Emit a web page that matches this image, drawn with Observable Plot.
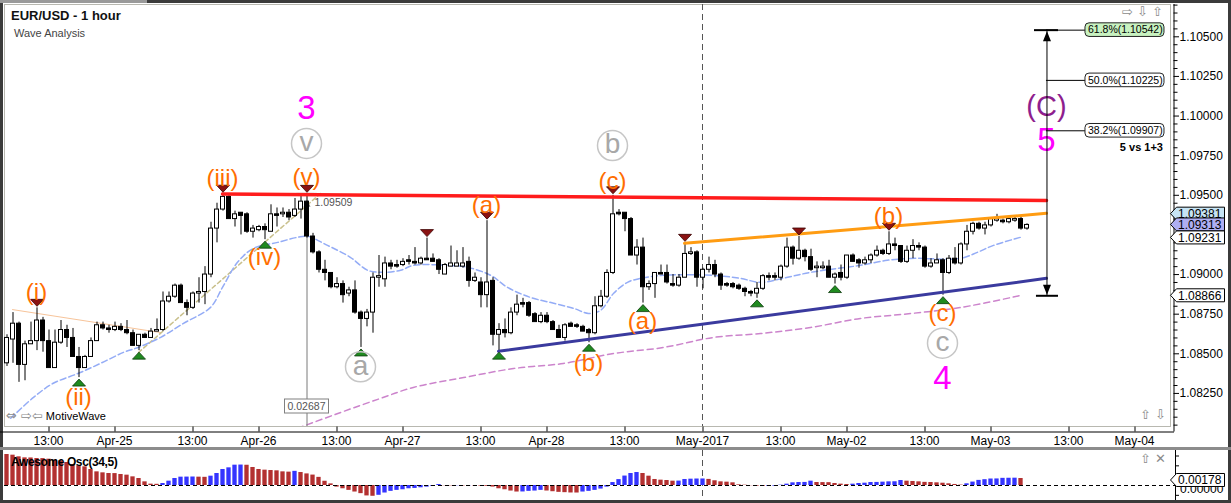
<!DOCTYPE html>
<html><head><meta charset="utf-8">
<script src="https://cdn.jsdelivr.net/npm/d3@7"></script>
<script src="https://cdn.jsdelivr.net/npm/@observablehq/plot@0.6"></script>
<style>
body{margin:0;background:#fff;font-family:"Liberation Sans",Arial,sans-serif}
#wrap{position:relative;width:1231px;height:503px;background:#3b3b3b;overflow:hidden}
.abs{position:absolute;white-space:nowrap}
.ico{font-family:"DejaVu Sans";color:#8a8a8a;font-size:13px}
</style></head><body>
<div id="wrap">
 <div class="abs" style="left:0;top:0;width:147px;height:3px;background:#9a9a9a"></div>
 <div class="abs" style="left:3px;top:3px;width:1225px;height:444px;background:#fff"></div>
 <div class="abs" style="left:0;top:447px;width:1231px;height:3px;background:#8c8c8c"></div>
 <div class="abs" style="left:3px;top:450px;width:1225px;height:50px;background:#fff"></div>
 <div id="main" class="abs" style="left:0;top:0"></div>
 <div id="osc" class="abs" style="left:0;top:450px"></div>
 <div class="abs" style="left:11px;top:8px;font:bold 13px 'Liberation Sans';color:#111">EUR/USD - 1 hour</div>
 <div class="abs" style="left:14px;top:27px;font:11px 'Liberation Sans';color:#444">Wave Analysis</div>
 <div class="abs" style="left:6px;top:408px;font:11px 'Liberation Sans';color:#000"><span class="ico">⇔ ⇨⇦</span> MotiveWave</div>
 <div class="abs ico" style="left:1122px;top:4px">⇨ ⇩ ⇧</div>
 <div class="abs ico" style="left:1140px;top:407px">⇧ ⇩</div>
 <div class="abs ico" style="left:1140px;top:451px">⇧ ✕</div>
 <div class="abs" style="left:11px;top:455px;font:bold 12px 'Liberation Sans';letter-spacing:-0.4px;color:#000">Awesome Osc(34,5)</div>
</div>
<script>
// ---------------- data ----------------
const firstBar = 6; // bar index of first candle (hourly bars, weekend skipped)
const opens = [
1.0844,1.0859,1.0869,1.0843,1.0856,1.0858,1.0871,1.0858,1.0841,1.0857,
1.0865,1.0860,1.0848,1.0841,1.0848,1.0858,1.0868,1.0866,1.0865,1.0867,
1.0865,1.0863,1.0855,1.0862,1.0860,1.0864,1.0865,1.0883,1.0886,1.0893,
1.0882,1.0879,1.0888,1.0889,1.0900,1.0929,1.0941,1.0949,1.0935,1.0939,
1.0938,1.0927,1.0928,1.0930,1.0927,1.0938,1.0938,1.0939,1.0937,1.0941,
1.0946,1.0924,1.0914,1.0903,1.0901,1.0892,1.0894,1.0888,1.0890,1.0876,
1.0872,1.0876,1.0898,1.0897,1.0907,1.0906,1.0906,1.0909,1.0908,1.0907,
1.0910,1.0910,1.0909,1.0900,1.0905,1.0905,1.0905,1.0908,1.0896,1.0895,
1.0887,1.0896,1.0862,1.0865,1.0863,1.0876,1.0882,1.0882,1.0875,1.0870,
1.0874,1.0870,1.0865,1.0860,1.0869,1.0868,1.0867,1.0865,1.0863,1.0880,
1.0886,1.0901,1.0939,1.0939,1.0935,1.0912,1.0917,1.0892,1.0894,1.0901,
1.0901,1.0894,1.0893,1.0898,1.0913,1.0914,1.0898,1.0903,1.0906,1.0900,
1.0894,1.0894,1.0893,1.0891,1.0889,1.0888,1.0891,1.0899,1.0899,1.0898,
1.0905,1.0917,1.0910,1.0915,1.0911,1.0904,1.0904,1.0905,1.0898,1.0901,
1.0898,1.0912,1.0909,1.0907,1.0909,1.0912,1.0915,1.0913,1.0919,1.0918,
1.0908,1.0915,1.0918,1.0917,1.0905,1.0907,1.0909,1.0901,1.0910,1.0907,
1.0919,1.0927,1.0932,1.0929,1.0931,1.0934,1.0934,1.0933,1.0934,1.0935,
1.0929];
const highs = [
1.0862,1.0876,1.0870,1.0858,1.0870,1.0879,1.0873,1.0865,1.0865,1.0871,
1.0868,1.0866,1.0854,1.0849,1.0860,1.0870,1.0870,1.0868,1.0870,1.0869,
1.0871,1.0865,1.0862,1.0863,1.0866,1.0872,1.0889,1.0889,1.0894,1.0894,
1.0884,1.0889,1.0898,1.0905,1.0933,1.0945,1.0951,1.0950,1.0940,1.0939,
1.0939,1.0931,1.0931,1.0932,1.0944,1.0942,1.0942,1.0941,1.0948,1.0950,
1.09509,1.0926,1.0915,1.0909,1.0901,1.0898,1.0896,1.0892,1.0896,1.0877,
1.0878,1.0901,1.0912,1.0911,1.0909,1.0909,1.0910,1.0912,1.0917,1.0911,
1.0923,1.0913,1.0910,1.0907,1.0918,1.0915,1.0917,1.0911,1.0901,1.0898,
1.0934,1.0898,1.0869,1.0872,1.0879,1.0887,1.0885,1.0883,1.0876,1.0876,
1.0876,1.0871,1.0868,1.0869,1.0870,1.0869,1.0868,1.0866,1.0886,1.0890,
1.0903,1.0950,1.0941,1.0939,1.0936,1.0922,1.0923,1.0896,1.0901,1.0906,
1.0906,1.0900,1.0900,1.0920,1.0917,1.0915,1.0904,1.0911,1.0909,1.0901,
1.0895,1.0895,1.0894,1.0892,1.0890,1.0895,1.0900,1.0901,1.0901,1.0906,
1.0923,1.0918,1.0924,1.0916,1.0916,1.0908,1.0908,1.0909,1.0901,1.0906,
1.0912,1.0913,1.0910,1.0911,1.0913,1.0918,1.0916,1.0927,1.0923,1.0918,
1.0918,1.0922,1.0920,1.0918,1.0910,1.0913,1.0910,1.0912,1.0917,1.0920,
1.0931,1.0933,1.0933,1.0933,1.0936,1.0938,1.0935,1.0936,1.0936,1.0936,
1.0932];
const lows = [
1.0842,1.0844,1.0832,1.0833,1.0856,1.0852,1.0851,1.0841,1.0841,1.0856,
1.0854,1.0848,1.0835,1.0841,1.0848,1.0858,1.0865,1.0863,1.0864,1.0864,
1.0862,1.0855,1.0852,1.0860,1.0860,1.0864,1.0864,1.0882,1.0885,1.0882,
1.0874,1.0878,1.0882,1.0881,1.0898,1.0920,1.0940,1.0935,1.0930,1.0925,
1.0926,1.0923,1.0927,1.0922,1.0927,1.0930,1.0936,1.0934,1.0936,1.0935,
1.0923,1.0913,1.0901,1.0896,1.0891,1.0891,1.0882,1.0886,1.0875,1.0854,
1.0867,1.0863,1.0892,1.0892,1.0903,1.0904,1.0905,1.0906,1.0906,1.0906,
1.0909,1.0908,1.0900,1.0900,1.0905,1.0905,1.0904,1.0892,1.0895,1.0879,
1.0879,1.0855,1.0852,1.0860,1.0862,1.0874,1.0879,1.0873,1.0870,1.0869,
1.0869,1.0865,1.0860,1.0858,1.0867,1.0866,1.0864,1.0857,1.0862,1.0879,
1.0885,1.0900,1.0937,1.0927,1.0912,1.0906,1.0882,1.0890,1.0885,1.0900,
1.0894,1.0892,1.0892,1.0898,1.0912,1.0892,1.0891,1.0901,1.0898,1.0890,
1.0892,1.0891,1.0890,1.0886,1.0886,1.0885,1.0890,1.0896,1.0896,1.0896,
1.0904,1.0906,1.0909,1.0908,1.0902,1.0898,1.0903,1.0898,1.0894,1.0896,
1.0897,1.0908,1.0904,1.0906,1.0907,1.0911,1.0912,1.0912,1.0915,1.0907,
1.0907,1.0910,1.0915,1.0904,1.0904,1.0907,1.0887,1.0900,1.0906,1.0906,
1.0915,1.0925,1.0928,1.0925,1.0930,1.0933,1.0932,1.0932,1.0933,1.0928,
1.0928];
const closes = [
1.0860,1.0869,1.0843,1.0856,1.0858,1.0871,1.0858,1.0841,1.0857,1.0865,
1.0860,1.0848,1.0841,1.0848,1.0858,1.0868,1.0866,1.0865,1.0867,1.0865,
1.0863,1.0855,1.0862,1.0860,1.0864,1.0865,1.0883,1.0886,1.0893,1.0882,
1.0879,1.0888,1.0889,1.0900,1.0929,1.0941,1.0949,1.0935,1.0938,1.0937,
1.0927,1.0929,1.0930,1.0928,1.0938,1.0937,1.0939,1.0936,1.0941,1.0946,
1.0924,1.0914,1.0903,1.0901,1.0892,1.0894,1.0887,1.0890,1.0876,1.0872,
1.0876,1.0898,1.0899,1.0907,1.0905,1.0905,1.0908,1.0908,1.0907,1.0910,
1.0909,1.0908,1.0903,1.0906,1.0907,1.0907,1.0907,1.0896,1.0898,1.0887,
1.0895,1.0862,1.0865,1.0863,1.0876,1.0881,1.0881,1.0874,1.0870,1.0874,
1.0870,1.0865,1.0860,1.0868,1.0867,1.0867,1.0864,1.0863,1.0880,1.0886,
1.0901,1.0938,1.0938,1.0935,1.0912,1.0917,1.0892,1.0894,1.0901,1.0900,
1.0895,1.0893,1.0898,1.0913,1.0914,1.0898,1.0903,1.0906,1.0900,1.0893,
1.0893,1.0892,1.0891,1.0889,1.0888,1.0891,1.0899,1.0898,1.0898,1.0905,
1.0917,1.0910,1.0915,1.0911,1.0903,1.0905,1.0905,1.0898,1.0900,1.0898,
1.0912,1.0908,1.0907,1.0909,1.0912,1.0915,1.0913,1.0919,1.0918,1.0908,
1.0915,1.0918,1.0917,1.0905,1.0907,1.0909,1.0901,1.0910,1.0907,1.0919,
1.0927,1.0932,1.0929,1.0931,1.0935,1.0935,1.0933,1.0935,1.0935,1.0929,
1.09313];
// Awesome oscillator (34,5), bars from index 6 to 175
const aoValues = [
.00788,.00771,.00729,.00703,.00700,.00686,.00684,.00669,.00644,.00627,
.00585,.00534,.00500,.00475,.00407,.00347,.00322,.00305,.00303,.00280,
.00263,.00220,.00178,.00093,.00034,.00030,.00051,.00110,.00178,.00212,
.00214,.00216,.00212,.00208,.00237,.00305,.00407,.00449,.00517,.00520,
.00515,.00458,.00407,.00390,.00381,.00373,.00347,.00340,.00360,.00330,
.00295,.00265,.00207,.00108,.00041,-.00041,-.00083,-.00124,-.00166,-.00207,
-.00265,-.00274,-.00249,-.00191,-.00149,-.00124,-.00108,-.00083,-.00075,-.00058,
-.00041,-.00025,.00025,-.00005,-.00008,-.00006,-.00010,-.00008,-.00012,-.00015,
-.00020,-.00040,-.00083,-.00108,-.00141,-.00166,-.00164,-.00149,-.00141,-.00124,
-.00140,-.00158,-.00174,-.00182,-.00190,-.00191,-.00166,-.00149,-.00124,-.00091,
-.00041,.00075,.00150,.00240,.00305,.00330,.00305,.00237,.00153,.00136,
.00127,.00110,.00112,.00153,.00161,.00165,.00166,.00155,.00120,.00093,
.00085,.00068,.00017,.00008,-.00005,-.00017,-.00025,-.00024,-.00017,.00008,
.00034,.00068,.00076,.00078,.00110,.00076,.00074,.00072,.00051,.00034,
.00025,.00034,.00051,.00059,.00076,.00078,.00085,.00093,.00095,.00127,
.00110,.00102,.00093,.00080,.00076,.00068,.00058,.00043,.00026,.00010,
.00043,.00087,.00130,.00148,.00165,.00167,.00182,.00184,.00186,.00178];
// moving averages (read points)
const blueMaIdx = [6.7,10.5,13.8,18,21.7,25.5,28,31.7,35.5,40,42,44.5,47.2,51.2,54.5,56.2,59.5,63.3,66.2,68.8,71.7,73.8,79.5,82.8,86.7,89.5,93.3,97.2,100.5,103,105,107.2,109.5,111.7,115.5,123.8,128.3,131.7,136.2,140,144.5,148.3,152.8,156.7,165,167.8,170.5,175];
const blueMaVal = [1.08093,1.08225,1.08314,1.08377,1.08440,1.08509,1.08541,1.08604,1.08692,1.08793,1.08919,1.09077,1.09166,1.09203,1.09235,1.09241,1.09184,1.09109,1.09027,1.09014,1.09027,1.09058,1.09058,1.09046,1.08995,1.08919,1.08856,1.08819,1.08787,1.08755,1.08774,1.08882,1.08951,1.08976,1.08995,1.08995,1.08976,1.08951,1.08983,1.09014,1.09039,1.09058,1.09090,1.09102,1.09102,1.09140,1.09184,1.09235];
const purpleMaIdx = [54.5,61.7,68.3,73.8,82.2,90.5,98.8,107.2,115.5,123.8,131.7,140,148.3,156.7,165,175];
const purpleMaVal = [1.08030,1.08130,1.08218,1.08288,1.08350,1.08407,1.08439,1.08502,1.08540,1.08603,1.08628,1.08666,1.08723,1.08754,1.08792,1.08868];
// x axis ticks
const xTickIdx = [13,24,37,48,61,72,85,96,109,122,135,146,159,170,183,194];
const xTickLabels = ["13:00","Apr-25","13:00","Apr-26","13:00","Apr-27","13:00","Apr-28","13:00","May-2017","13:00","May-02","13:00","May-03","13:00","May-04"];
const yTicks = [1.0825,1.085,1.0875,1.09,1.0925,1.095,1.0975,1.1,1.1025,1.105];
const sessionDivider = 122;
// swing markers
const peakIdx = [11,42,56,76,86,107,119,138,153];
const troughIdx = [18,28,49,65,88,103,112,131,144,162];
// wave labels
const minorText = ["(i)","(ii)","(iii)","(iv)","(v)","(a)","(b)","(c)","(a)","(b)","(c)"];
const minorIdx = [11,18,42,49,56,86,103,107,112,153,162];
const minorPrice = [1.08887,1.08224,1.09606,1.09109,1.09612,1.09436,1.08439,1.09587,1.08705,1.09366,1.08753];
const circledText = ["v","a","b","c"];
const circledIdx = [56,65,107,162];
const circledPrice = [1.09827,1.08418,1.09814,1.08567];
const degreeText = ["3","4","5"];
const degreeIdx = [56,162,179.33];
const degreePrice = [1.10048,1.08344,1.09846];
const majorText = ["(C)"]; const majorIdx = [179.33]; const majorPrice = [1.10060];
// trend lines
const redLineIdx = [42,179.33], redLineP = [1.09508,1.09467];
const orangeLineIdx = [119,179.33], orangeLineP = [1.09197,1.09386];
const navyLineIdx = [88,179.33], navyLineP = [1.08516,1.08976];
const tanLineIdx = [28,58.33], tanLineP = [1.08508,1.09511];
const paleLineIdx = [7,31.67], paleLineP = [1.08779,1.08634];
// measurement (wave 3 high)
const measureIdx = 56, measureHigh = 1.09509, measureRange = 0.02687;
// fibonacci projection
const fibIdx = 179.33, fibLow = 1.08866;
const fibPct = ["61.8%","50.0%","38.2%"], fibVals = [1.10542,1.10225,1.09907];
// right axis tags
const tagVals = [1.09381,1.09313,1.09231,1.08866];
const aoLast = 0.00178;

// ---------------- layout ----------------
const PX = 15850, P0 = 1.095, Y0 = 194.8;
const py = px => P0 - (px - Y0) / PX;
const ix = px => (px + 30) / 6;
const xDomain = [ix(4), ix(1170)];
const yDomain = [py(426), py(4)];
const FONT = "'Liberation Sans', Arial, sans-serif";

const candles = opens.map((o,k)=>({i:firstBar+k, open:o, high:highs[k], low:lows[k], close:closes[k]}));
const up = candles.filter(d=>d.close>=d.open), down = candles.filter(d=>d.close<d.open);
const pts = (a,b)=>a.map((v,k)=>({i:v,p:b[k]}));
const byIdx = new Map(candles.map(d=>[d.i,d]));
const peaks = peakIdx.map(i=>byIdx.get(i));
const troughs = troughIdx.map(i=>byIdx.get(i));
const lab = (t,a,b)=>t.map((s,k)=>({t:s,i:a[k],p:b[k]}));
const minorTicks = [];
for (let v = 1.0805; v < 1.107; v += 0.0005) { const r = Math.round(v*10000)/10000; if (!yTicks.some(t=>Math.abs(t-r)<1e-7)) minorTicks.push(r); }
// the 1.09250 label is hidden under the price tags in the reference
const yLabels = yTicks.filter(t => !tagVals.some(v => Math.abs(v - t) < 0.0004));

const triDown = {draw(c){c.moveTo(-6.5,-3.5);c.lineTo(6.5,-3.5);c.lineTo(0,3.5);c.closePath();}};
const triUp = {draw(c){c.moveTo(0,-3.5);c.lineTo(6.5,3.5);c.lineTo(-6.5,3.5);c.closePath();}};
const arrUp = {draw(c){c.moveTo(0,-5);c.lineTo(4,5);c.lineTo(-4,5);c.closePath();}};
const arrDown = {draw(c){c.moveTo(0,5);c.lineTo(4,-5);c.lineTo(-4,-5);c.closePath();}};
const arrSmall = {draw(c){c.moveTo(0,-4);c.lineTo(3.5,3);c.lineTo(-3.5,3);c.closePath();}};

const fig = Plot.plot({
  width: 1231, height: 447,
  marginLeft: 4, marginRight: 61, marginTop: 4, marginBottom: 21,
  x: {domain: xDomain, axis: null},
  y: {domain: yDomain, axis: null},
  style: {background: "transparent", fontFamily: FONT, overflow: "visible"},
  marks: [
    Plot.frame({stroke: "#b8b8b0"}),
    Plot.ruleX([sessionDivider], {stroke: "#555", strokeDasharray: "6,4"}),
    Plot.line(pts(paleLineIdx, paleLineP), {x:"i", y:"p", stroke:"#f7c49a", strokeWidth:1}),
    Plot.line(pts(tanLineIdx, tanLineP), {x:"i", y:"p", stroke:"#c9c08c", strokeDasharray:"4,3"}),
    Plot.line(pts(blueMaIdx, blueMaVal), {x:"i", y:"p", stroke:"#94acf6", strokeDasharray:"6,3", curve:"catmull-rom", clip:true}),
    Plot.line(pts(purpleMaIdx, purpleMaVal), {x:"i", y:"p", stroke:"#cc84cc", strokeDasharray:"6,4", curve:"catmull-rom", clip:true}),
    Plot.ruleX([measureIdx], {y1: measureHigh - measureRange, y2: measureHigh, dy: 8, dx: 0.5, stroke: "#7a7a7a", clip: true}),
    Plot.ruleY([measureHigh], {x1: measureIdx - 1.6, x2: measureIdx + 1.8, stroke: "#a0a0a0", strokeWidth: 2}),
    Plot.dot([measureHigh], {x: measureIdx, y: d=>d, symbol: arrSmall, fill: "#7a7a7a", dy: 10, dx: 0.5}),
    Plot.text([measureHigh], {x: measureIdx, y: d=>d, text: d=>d.toFixed(5), dx: 8, dy: 9, textAnchor: "start", fontSize: 10.5, fill: "#555"}),
    // candles
    Plot.ruleX(candles, {x:"i", y1:"low", y2:"high", stroke:"#000", dx:0.5, clip:true}),
    Plot.rect(up, {x1: d=>d.i-1/3, x2: d=>d.i+1/3, y1:"open", y2:"close", fill:"#fff", stroke:"#000", dx:0.5, clip:true}),
    Plot.rect(down, {x1: d=>d.i-1/3, x2: d=>d.i+1/3, y1:"open", y2:"close", fill:"#000", stroke:"#000", dx:0.5, clip:true}),
    // trend lines
    Plot.line(pts(redLineIdx, redLineP), {x:"i", y:"p", stroke:"#ff1c1c", strokeWidth:3.5}),
    Plot.line(pts(orangeLineIdx, orangeLineP), {x:"i", y:"p", stroke:"#ff9c12", strokeWidth:3}),
    Plot.line(pts(navyLineIdx, navyLineP), {x:"i", y:"p", stroke:"#3a3a9e", strokeWidth:3}),
    // swing markers
    Plot.dot(peaks, {x:"i", y:"high", symbol: triDown, fill:"#8a1212", stroke:"#3a0000", strokeWidth:0.8, dy:-5, dx:0.5}),
    Plot.dot(troughs, {x:"i", y:"low", symbol: triUp, fill:"#1f8a1f", stroke:"#0b3b0b", strokeWidth:0.8, dy:5, dx:0.5}),
    // wave labels
    Plot.text(lab(minorText, minorIdx, minorPrice), {x:"i", y:"p", text:"t", fill:"#ff6e00", fontSize:24}),
    Plot.dot(lab(circledText, circledIdx, circledPrice), {x:"i", y:"p", r:15, stroke:"#c6c6c6", strokeWidth:1.5, fill:"none"}),
    Plot.text(lab(circledText, circledIdx, circledPrice), {x:"i", y:"p", text:"t", fill:"#a8a8a8", fontSize:28, dy:-1}),
    Plot.text(lab(degreeText, degreeIdx, degreePrice), {x:"i", y:"p", text:"t", fill:"#ff00ff", fontSize:33}),
    Plot.text(lab(majorText, majorIdx, majorPrice), {x:"i", y:"p", text:"t", fill:"#8e1e8e", fontSize:29}),
    // fib projection
    Plot.ruleX([fibIdx], {y1: fibLow, y2: fibVals[0], stroke:"#000", dx:0.5}),
    Plot.ruleY([fibVals[0]], {x1: fibIdx-2, x2: fibIdx+2, stroke:"#000", strokeWidth:2}),
    Plot.ruleY([fibLow], {x1: fibIdx-1.67, x2: fibIdx+2, stroke:"#000", strokeWidth:2}),
    Plot.ruleY(fibVals, {x1: fibIdx, x2: fibIdx+6.5, stroke:"#000"}),
    Plot.dot([fibVals[0]], {x: fibIdx, y: d=>d, symbol: arrUp, fill:"#000", dy: 6, dx:0.5}),
    Plot.dot([fibLow], {x: fibIdx, y: d=>d, symbol: arrDown, fill:"#000", dy: -6, dx:0.5}),
    // axes
    Plot.ruleX([ix(1173.5)], {y1: py(4), y2: py(431.5), stroke:"#000"}),
    Plot.ruleY(yTicks, {y: d=>d, x1: ix(1173.5), x2: ix(1179), stroke:"#000"}),
    Plot.ruleY(minorTicks, {y: d=>d, x1: ix(1173.5), x2: ix(1177.5), stroke:"#000"}),
    Plot.text(yLabels, {x: ix(1179), y: d=>d, text: d=>d.toFixed(5), textAnchor:"start", fontSize: 12, fill:"#000"}),
    Plot.ruleY([py(431.5)], {x1: ix(0), x2: ix(1174), stroke:"#000"}),
    Plot.ruleX(xTickIdx, {x: d=>d, y1: py(431.5), y2: py(426.5), stroke:"#000", dx:0.5}),
    Plot.text(xTickIdx, {x: d=>d, y: py(440.5), text: (d,k)=>xTickLabels[k], fontSize: 12, fill:"#000"})
  ]
});
document.getElementById("main").appendChild(fig);

// overlays positioned with the chart's own scales
const xs = fig.scale("x"), ys = fig.scale("y");
const svg = d3.select(fig);
function tag(sel, y, text, fill, fs) {
  const x0 = 1170.5, w = 54, h = 13;
  const g = sel.append("g");
  g.append("path").attr("d", `M${x0},${y} L${x0+6},${y-h/2} L${x0+w},${y-h/2} L${x0+w},${y+h/2} L${x0+6},${y+h/2} Z`)
    .attr("fill", fill).attr("stroke", "#000").attr("stroke-width", 1);
  g.append("text").attr("x", x0+7.5).attr("y", y).attr("dy", "0.36em").attr("text-anchor", "start").text(text)
    .style("font", `${fs||12}px ${FONT}`).attr("fill", "#000");
}
const tagFills = ["#c6e4f4", "#aeaef2", "#fff", "#fff"];
tagVals.forEach((v,k)=>tag(svg, ys.apply(v), v.toFixed(5), tagFills[k]));

// fib level boxes
const bx = xs.apply(fibIdx) + 39;
fibVals.forEach((v,k)=>{
  const y = ys.apply(v);
  svg.append("rect").attr("x", bx).attr("y", y-6.8).attr("width", 79).attr("height", 13.6)
    .attr("rx", 4).attr("fill", k===0 ? "#c8f2c0" : "#fff").attr("stroke", "#222");
  svg.append("text").attr("x", bx+3).attr("y", y).attr("dy", "0.36em").attr("text-anchor", "start")
    .text(`${fibPct[k]}(${v.toFixed(5)})`).style("font", `10.5px ${FONT}`).attr("fill","#000");
});
svg.append("text").attr("x", bx+78).attr("y", ys.apply(fibVals[2])+17).attr("dy","0.36em").attr("text-anchor","end")
  .text("5 vs 1+3").style("font", `bold 11px ${FONT}`).attr("fill","#000");

// measurement range box
{
  const cx = xs.apply(measureIdx) + 0.5, cy = 406;
  svg.append("rect").attr("x", cx-22).attr("y", cy-7).attr("width", 44).attr("height", 14)
    .attr("fill","#fff").attr("stroke","#808080");
  svg.append("text").attr("x", cx).attr("y", cy).attr("dy","0.36em").attr("text-anchor","middle")
    .text(measureRange.toFixed(5)).style("font", `10.5px ${FONT}`).attr("fill","#555");
}

// ---------------- oscillator ----------------
const AOPX = 3933;
const ao = aoValues.map((v,k)=>({i:firstBar+k, v, rising: k>0 && v>aoValues[k-1]}));
const osc = Plot.plot({
  width: 1231, height: 50,
  marginLeft: 4, marginRight: 61, marginTop: 0, marginBottom: 0,
  x: {domain: xDomain, axis: null},
  y: {domain: [-15/AOPX, 35/AOPX], axis: null},
  style: {background: "transparent", fontFamily: FONT, overflow: "visible"},
  marks: [
    Plot.ruleX([sessionDivider], {stroke:"#555", strokeDasharray:"6,4"}),
    Plot.rect(ao.filter(d=>!d.rising), {x1: d=>d.i-0.36, x2: d=>d.i+0.36, y1: 0, y2: "v", fill:"#b33030", dx:0.5}),
    Plot.rect(ao.filter(d=>d.rising), {x1: d=>d.i-0.36, x2: d=>d.i+0.36, y1: 0, y2: "v", fill:"#3434ff", dx:0.5}),
    Plot.ruleY([0], {x1: xDomain[0], x2: ix(1175), stroke:"#000", strokeDasharray:"4,3"}),
    Plot.ruleX([ix(1175)], {y1: -15/AOPX, y2: 35/AOPX, stroke:"#000"}),
    Plot.ruleY([-0.0025, 0, 0.0025, 0.005, 0.0075], {y: d=>d, x1: ix(1175), x2: ix(1179), stroke:"#000"})
  ]
});
document.getElementById("osc").appendChild(osc);
{
  const oy = osc.scale("y");
  // zero label, mostly hidden by the last-value tag as in the reference
  d3.select(osc).append("text").attr("x", 1180).attr("y", oy.apply(0) + 4).attr("dy", "0.36em")
    .attr("text-anchor", "start").text((0).toFixed(5)).style("font", `12px ${FONT}`).attr("fill", "#000");
  tag(d3.select(osc), oy.apply(aoLast) + 2, aoLast.toFixed(5), "#fff");
}
</script>
</body></html>
